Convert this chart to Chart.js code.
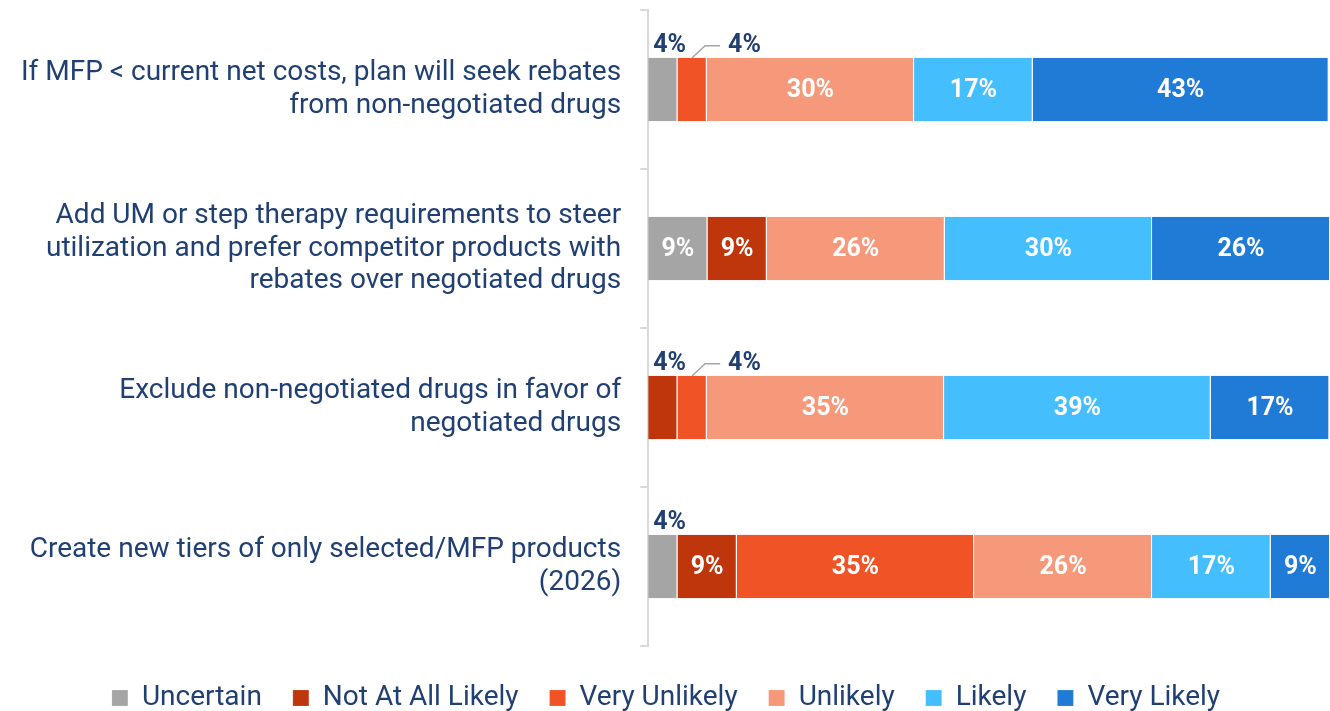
<!DOCTYPE html>
<html>
<head>
<meta charset="utf-8">
<script src="https://cdn.jsdelivr.net/npm/chart.js@4/dist/chart.umd.min.js"></script>
<style>
  html, body { margin: 0; padding: 0; background: #fff; }
  #wrap { width: 1330px; height: 711px; }
</style>
</head>
<body>
<div id="wrap"><canvas id="chart"></canvas></div>
<script>
const categories = [
  ["If MFP < current net costs, plan will seek rebates", "from non-negotiated drugs"],
  ["Add UM or step therapy requirements to steer", "utilization and prefer competitor products with", "rebates over negotiated drugs"],
  ["Exclude non-negotiated drugs in favor of", "negotiated drugs"],
  ["Create new tiers of only selected/MFP products", "(2026)"],
];

const uncertain      = [4.3, 8.7, 0, 4.3];
const notAtAllLikely = [0, 8.7, 4.3, 8.7];
const veryUnlikely   = [4.3, 0, 4.3, 34.8];
const unlikely       = [30.4, 26.1, 34.8, 26.1];
const likely         = [17.4, 30.4, 39.1, 17.4];
const veryLikely     = [43.4, 26.1, 17.4, 8.7];

const NAVY = "#203F73";
const FONT = "Roboto, 'Liberation Sans', sans-serif";

const series = [
  { label: "Uncertain", data: uncertain, color: "#A5A5A5" },
  { label: "Not At All Likely", data: notAtAllLikely, color: "#BF360C" },
  { label: "Very Unlikely", data: veryUnlikely, color: "#F05325" },
  { label: "Unlikely", data: unlikely, color: "#F6987A" },
  { label: "Likely", data: likely, color: "#44BEFD" },
  { label: "Very Likely", data: veryLikely, color: "#1F7BD5" },
];

// percent labels: white inside wide segments, navy above narrow ones
const segmentLabels = {
  id: "segmentLabels",
  afterDatasetsDraw(chart) {
    const ctx = chart.ctx;
    ctx.save();
    ctx.font = "bold 25px " + FONT;
    ctx.textBaseline = "middle";
    categories.forEach((_, i) => {
      let smallCount = 0;
      chart.data.datasets.forEach((ds, d) => {
        const v = ds.data[i];
        if (!v) return;
        const bar = chart.getDatasetMeta(d).data[i];
        const txt = Math.round(v) + "%";
        const left = Math.min(bar.x, bar.base);
        const cx = (bar.x + bar.base) / 2;
        const top = bar.y - bar.height / 2;
        if (v >= 6) {
          ctx.fillStyle = "#fff";
          ctx.textAlign = "center";
          ctx.fillText(txt, cx, bar.y + 1);
          return;
        }
        ctx.fillStyle = NAVY;
        ctx.textAlign = "left";
        if (smallCount === 0) {
          ctx.fillText(txt, left + 5, top - 12);
        } else {
          ctx.strokeStyle = "#A5A5A5";
          ctx.lineWidth = 1.5;
          ctx.beginPath();
          ctx.moveTo(cx, top);
          ctx.lineTo(cx + 13, top - 12);
          ctx.lineTo(cx + 28, top - 12);
          ctx.stroke();
          ctx.fillText(txt, cx + 36, top - 12);
        }
        smallCount++;
      });
    });
    ctx.restore();
  },
};

new Chart(document.getElementById("chart"), {
  type: "bar",
  data: {
    labels: categories,
    datasets: series.map((s) => ({
      label: s.label,
      data: s.data,
      backgroundColor: s.color,
      borderColor: "rgba(255,255,255,0.55)",
      borderWidth: { right: 1, left: 0, top: 0, bottom: 0 },
      borderSkipped: false,
      categoryPercentage: 0.8,
      barPercentage: 0.5,
    })),
  },
  options: {
    indexAxis: "y",
    responsive: true,
    maintainAspectRatio: false,
    animation: false,
    // legend hangs a little below the canvas edge so its row sits low
    layout: { padding: { top: 10, right: 0, left: 2, bottom: -11 } },
    scales: {
      x: { stacked: true, min: 0, max: 100, display: false },
      y: {
        stacked: true,
        afterFit(scale) {
          // labels sit inside their bands, no overflow room needed
          scale.paddingTop = 0;
          scale.paddingBottom = 0;
        },
        grid: {
          offset: true,
          drawOnChartArea: false,
          tickLength: 8,
          color: "#D9D9D9",
          lineWidth: 2,
        },
        border: { color: "#D9D9D9", width: 2 },
        ticks: {
          color: NAVY,
          font: { family: FONT, size: 28, lineHeight: 1.15 },
          padding: 19,
        },
      },
    },
    plugins: {
      legend: {
        position: "bottom",
        title: { display: true, text: "", font: { size: 1, lineHeight: 1 }, padding: { top: 3, bottom: 3 } },
        labels: {
          color: NAVY,
          font: { family: FONT, size: 28 },
          boxWidth: 16,
          boxHeight: 16,
          padding: 31,
        },
      },
      tooltip: { enabled: false },
    },
  },
  plugins: [segmentLabels],
});
</script>
</body>
</html>
